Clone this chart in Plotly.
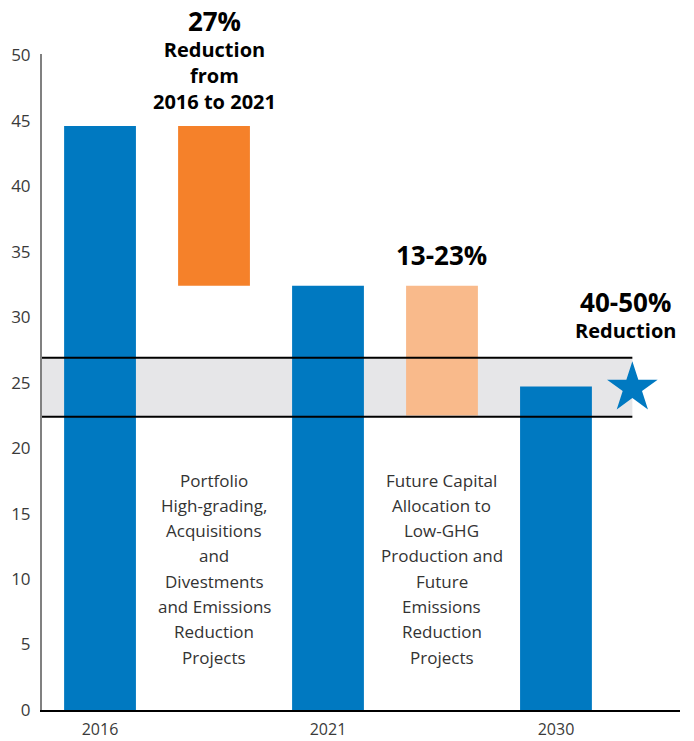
import plotly.graph_objects as go

# ---- data ----
year_labels = ["2016", "2021", "2030"]
year_pos = [0, 2, 4]
emissions = [44.6, 32.4, 24.7]

step_pos = [1, 3]
step_top = [44.6, 32.4]
step_bottom = [32.4, 22.5]
step_colors = ["#f5812a", "#f9ba8b"]

target_low = 22.4
target_high = 26.9
star_x = 4.67
star_y = 24.6

yticks = [0, 5, 10, 15, 20, 25, 30, 35, 40, 45, 50]

BLUE = "#0079c1"
FONT = "Open Sans"
TICK_COLOR = "#3a3a3a"

fig = go.Figure()

fig.add_trace(go.Bar(x=year_pos, y=emissions, width=0.63, marker=dict(color=BLUE, line=dict(width=0)),
                     showlegend=False, hoverinfo="skip"))
fig.add_trace(go.Bar(x=step_pos, y=[t - b for t, b in zip(step_top, step_bottom)], base=step_bottom,
                     width=0.63, marker=dict(color=step_colors, line=dict(width=0)),
                     showlegend=False, hoverinfo="skip"))
fig.add_trace(go.Scatter(x=[star_x], y=[star_y], mode="markers",
                         marker=dict(symbol="star", size=38, color=BLUE, line=dict(width=0)),
                         showlegend=False, hoverinfo="skip", cliponaxis=False))

# target band
fig.add_shape(type="rect", xref="x", yref="y", x0=-0.509, x1=star_x, y0=target_low, y1=target_high,
              fillcolor="#e6e6e8", line=dict(width=0), layer="below")
for yv in [target_low, target_high]:
    fig.add_shape(type="line", xref="x", yref="y", x0=-0.509, x1=star_x, y0=yv, y1=yv,
                  line=dict(color="black", width=2), layer="above")

def px2paper(p):
    return (710 - p) / 656.0

# headline annotations (big first line + smaller bold lines)
fig.add_annotation(x=1, y=px2paper(1), xref="x", yref="paper", showarrow=False,
                   xanchor="center", yanchor="top", align="center",
                   text="<b><span style='font-size:26px'>27%</span><br>Reduction<br>from<br>2016 to 2021</b>",
                   font=dict(family=FONT, size=20, color="black"))
fig.add_annotation(x=3, y=px2paper(255), xref="x", yref="paper", showarrow=False,
                   xanchor="center", yanchor="middle", text="<b>13-23%</b>",
                   font=dict(family=FONT, size=26, color="black"))
fig.add_annotation(x=4.61, y=px2paper(282), xref="x", yref="paper", showarrow=False,
                   xanchor="center", yanchor="top", align="center",
                   text="<b><span style='font-size:26px'>40-50%</span><br>Reduction</b>",
                   font=dict(family=FONT, size=20, color="black"))

body1 = ["Portfolio", "High-grading,", "Acquisitions", "and", "Divestments", "and Emissions", "Reduction", "Projects"]
body2 = ["Future Capital", "Allocation to", "Low-GHG", "Production and", "Future", "Emissions", "Reduction", "Projects"]
for xpos, lines in [(1, body1), (3, body2)]:
    for i, line in enumerate(lines):
        fig.add_annotation(x=xpos, y=px2paper(480 + i * 25.3), xref="x", yref="paper", text=line,
                           showarrow=False, xanchor="center", yanchor="middle",
                           font=dict(family=FONT, size=17, color="#333333"))

fig.update_layout(
    width=694, height=741,
    margin=dict(l=42, r=14, t=54, b=31, autoexpand=False),
    paper_bgcolor="white", plot_bgcolor="white",
    barmode="overlay",
    font=dict(family=FONT, color=TICK_COLOR),
)
fig.update_xaxes(range=[-0.509, 5.088], tickvals=year_pos, ticktext=year_labels, showgrid=False,
                 zeroline=False, showline=True, linecolor="black", linewidth=2, ticks="",
                 automargin=False, ticklabelstandoff=4,
                 tickfont=dict(family=FONT, size=16, color=TICK_COLOR), fixedrange=True)
fig.update_yaxes(range=[0, 50.1], tickvals=yticks, showgrid=False, zeroline=False, showline=True,
                 linecolor="#808080", linewidth=2, ticks="", ticklabelstandoff=6, automargin=False,
                 tickfont=dict(family=FONT, size=17, color=TICK_COLOR), fixedrange=True)

fig.write_html("out.html", config={"displayModeBar": False},
               post_script="document.body.style.margin='0px';document.body.style.overflow='hidden';")
